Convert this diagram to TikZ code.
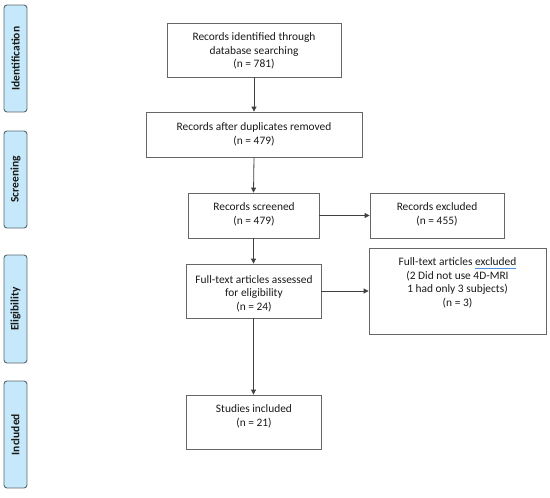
\documentclass[tikz,border=0pt]{standalone}
\usepackage{fontspec}
\setmainfont{Carlito}
\usetikzlibrary{arrows.meta}
\definecolor{stagefill}{HTML}{C5E8FA}
\definecolor{stagedraw}{HTML}{5A6870}
\definecolor{boxdraw}{HTML}{666666}
\definecolor{linecol}{HTML}{404040}
\definecolor{spellblue}{HTML}{4A90E2}
\newcommand{\spellul}[1]{\setbox0\hbox{#1}\rlap{\color{spellblue}\rule[-2.6pt]{\wd0}{0.9pt}}#1}
\begin{document}
\begin{tikzpicture}[x=1pt,y=-1pt,
  stage/.style={draw=stagedraw, fill=stagefill, rounded corners=3pt, line width=0.9pt,
    minimum width=23pt, inner sep=0pt},
  stagetxt/.style={rotate=90, font=\fontsize{11.5}{13}\selectfont\bfseries, text=black!90},
  box/.style={draw=boxdraw, line width=0.8pt, inner sep=0pt},
  txt/.style={align=center, font=\fontsize{11.4}{13.5}\selectfont, text=black!90, inner sep=0pt},
  arr/.style={draw=linecol, line width=0.8pt, -{Triangle[length=5pt,width=5pt]}}]
\useasboundingbox (0,0) rectangle (550,498);
% stage labels
\node[stage, minimum height=107pt] (s1) at (15.5,58.5) {};
\node[stagetxt] at (s1.center) {Identification};
\node[stage, minimum height=97pt] (s2) at (15.5,179.5) {};
\node[stagetxt] at (s2.center) {Screening};
\node[stage, minimum height=108pt] (s3) at (15.5,309) {};
\node[stagetxt] at (s3.center) {Eligibility};
\node[stage, minimum height=107pt] (s4) at (15.5,434.5) {};
\node[stagetxt] at (s4.center) {Included};
% boxes
\node[box, minimum width=174pt, minimum height=54pt] (b1) at (254,50) {};
\node[txt] at (254,51) {Records identified through\\database searching\\(n = 781)};
\node[box, minimum width=216pt, minimum height=45pt] (b2) at (254,134.5) {};
\node[txt] at (254,134.5) {Records after duplicates removed\\(n = 479)};
\node[box, minimum width=131pt, minimum height=45pt] (b3) at (253.5,215.5) {};
\node[txt] at (254,214.5) {Records screened\\(n = 479)};
\node[box, minimum width=134pt, minimum height=45pt] (b4) at (437,215.5) {};
\node[txt] at (437,214.5) {Records excluded\\(n = 455)};
\node[box, minimum width=135pt, minimum height=54pt] (b5) at (253.5,291) {};
\node[txt] at (254,293.5) {Full-text articles assessed\\for eligibility\\(n = 24)};
\node[box, minimum width=177pt, minimum height=86pt] (b6) at (457.5,291) {};
\node[txt] at (457.5,283) {Full-text articles \spellul{excluded}\\(2 Did not use 4D-MRI\\1 had only 3 subjects)\\(n = 3)};
\node[box, minimum width=135pt, minimum height=54pt] (b7) at (253.5,422) {};
\node[txt] at (254,416.5) {Studies included\\(n = 21)};
% connectors
\draw[arr] (b1.south) -- (b2.north);
\draw[arr] (b2.south) -- (b3.north);
\draw[arr] (b3.south) -- (b5.north);
\draw[arr] (b5.south) -- (b7.north);
\draw[arr] (b3.east) -- (b4.west);
\draw[arr] (b5.east) -- (b6.west);
\end{tikzpicture}
\end{document}
